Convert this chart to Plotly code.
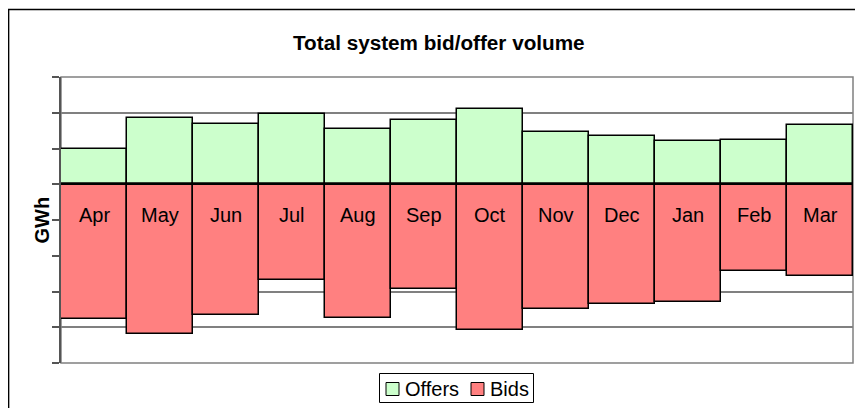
import plotly.graph_objects as go

months = ["Apr", "May", "Jun", "Jul", "Aug", "Sep", "Oct", "Nov", "Dec", "Jan", "Feb", "Mar"]
offers = [0.98, 1.84, 1.68, 1.97, 1.54, 1.81, 2.10, 1.45, 1.36, 1.21, 1.25, 1.66]
bids = [-3.78, -4.18, -3.66, -2.67, -3.73, -2.92, -4.07, -3.49, -3.35, -3.28, -2.43, -2.56]
y_ticks = [-5, -4, -3, -2, -1, 0, 1, 2, 3]
legend_names = ["Offers", "Bids"]
colors = ["#CCFFCC", "#FF8080"]

FONT = "Liberation Sans, Arial, sans-serif"
OFF = 8  # page body margin
W, H = 863 - OFF, 408 - OFF
L, R, T, B = 61 - OFF, 10, 77 - OFF, 45
PW, PH = W - L - R, H - T - B


def px_x(x):
    # window pixel -> paper coordinate
    return (x - OFF - L) / PW


def px_y(y):
    return (H - B - (y - OFF)) / PH


fig = go.Figure()
fig.add_trace(go.Bar(x=months, y=offers, name=legend_names[0],
                     marker=dict(color=colors[0], line=dict(color="black", width=1.5))))
fig.add_trace(go.Bar(x=months, y=bids, name=legend_names[1],
                     marker=dict(color=colors[1], line=dict(color="black", width=1.5))))

annotations = []
for m in months:
    annotations.append(dict(x=m, y=0, xref="x", yref="y", text=m, showarrow=False,
                            yanchor="middle", yshift=-31,
                            font=dict(family=FONT, size=20, color="black")))
annotations.append(dict(x=px_x(438.5), y=px_y(42.5), xref="paper", yref="paper",
                        text="<b>Total system bid/offer volume</b>", showarrow=False,
                        xanchor="center", yanchor="middle",
                        font=dict(family=FONT, size=20.7, color="black")))
annotations.append(dict(x=px_x(41.5), y=px_y(220), xref="paper", yref="paper",
                        text="<b>GWh</b>", showarrow=False, textangle=-90,
                        xanchor="center", yanchor="middle",
                        font=dict(family=FONT, size=20, color="black")))

shapes = [
    # outer chart border
    dict(type="rect", xref="paper", yref="paper", x0=px_x(8.6), x1=px_x(870),
         y0=px_y(9.6), y1=px_y(420), line=dict(color="black", width=1.5)),
    # plot area border (grey)
    dict(type="rect", xref="paper", yref="paper", x0=0, x1=1, y0=0, y1=1,
         line=dict(color="#808080", width=1.5), layer="below"),
    # zero line
    dict(type="line", xref="paper", yref="y", x0=0, x1=1, y0=0, y1=0,
         line=dict(color="black", width=1.5)),
    # legend box
    dict(type="rect", xref="paper", yref="paper", x0=px_x(379.5), x1=px_x(533.5),
         y0=px_y(373.5), y1=px_y(402.5), line=dict(color="black", width=1),
         fillcolor="white"),
]

# custom legend entries
leg_sq = [386, 471]
leg_tx = [403, 488]
for name, col, sx, tx in zip(legend_names, colors, leg_sq, leg_tx):
    shapes.append(dict(type="rect", xref="paper", yref="paper", x0=px_x(sx), x1=px_x(sx + 13),
                       y0=px_y(382.5), y1=px_y(395.5), line=dict(color="black", width=1),
                       fillcolor=col))
    annotations.append(dict(x=px_x(tx), y=px_y(389), xref="paper", yref="paper", text=name,
                            showarrow=False, xanchor="left", yanchor="middle",
                            font=dict(family=FONT, size=20, color="black")))

fig.update_layout(
    width=W, height=H,
    margin=dict(l=L, r=R, t=T, b=B),
    paper_bgcolor="white", plot_bgcolor="white",
    barmode="relative", bargap=0,
    showlegend=False,
    annotations=annotations,
    shapes=shapes,
    xaxis=dict(range=[-0.5, 11.5], showticklabels=False, showgrid=False, zeroline=False,
               showline=False, ticks=""),
    yaxis=dict(range=[-5, 3], tickvals=y_ticks, showticklabels=False, showgrid=True,
               gridcolor="#808080", gridwidth=1.5, zeroline=False,
               showline=True, linecolor="#555555", linewidth=1.5,
               ticks="outside", ticklen=7, tickcolor="#555555", tickwidth=1.5),
    font=dict(family=FONT, size=20, color="black"),
)

fig.write_html("out.html")
